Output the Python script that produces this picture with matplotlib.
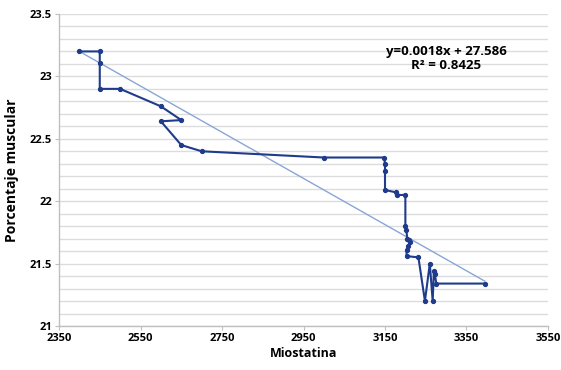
import numpy as np
import matplotlib.pyplot as plt
from matplotlib.ticker import MultipleLocator

# Data (in plotting order)
miostatina = [2400, 2450, 2450, 2450, 2500, 2600, 2650, 2600, 2650, 2700,
              3000, 3148, 3150, 3150, 3150, 3178, 3180, 3200, 3200, 3202,
              3205, 3210, 3212, 3207, 3203, 3203, 3232, 3248, 3260, 3267,
              3270, 3272, 3276, 3395]
porcentaje = [23.2, 23.2, 23.11, 22.9, 22.9, 22.76, 22.65, 22.64, 22.45, 22.4,
              22.35, 22.35, 22.3, 22.24, 22.09, 22.07, 22.05, 22.05, 21.8, 21.77,
              21.7, 21.69, 21.67, 21.64, 21.61, 21.56, 21.55, 21.2, 21.5, 21.2,
              21.44, 21.42, 21.34, 21.34]
x_ticks = [2350, 2550, 2750, 2950, 3150, 3350, 3550]
y_ticks = [21, 21.5, 22, 22.5, 23, 23.5]
# trend line as drawn in the reference
trend_slope = -0.00185
trend_intercept = 27.64
eq_text = "y=0.0018x + 27.586"
r2_text = "R² = 0.8425"

plt.rcParams['font.family'] = ['Open Sans', 'DejaVu Sans']

fig = plt.figure(figsize=(5.61, 3.70), dpi=100)
ax = fig.add_axes([0.1052, 0.1189, 0.8716, 0.8433])

x = np.array(miostatina)
y = np.array(porcentaje)
xs = np.array([x.min(), x.max()])
ax.plot(xs, trend_slope * xs + trend_intercept, color='#88a6d6', lw=1.0, zorder=2)

# Series
ax.plot(x, y, color='#1f3b8c', lw=1.5, marker='o', markersize=2.8, zorder=3)

ax.set_xlim(2350, 3550)
ax.set_ylim(21, 23.5)
ax.set_xticks(x_ticks)
ax.set_yticks(y_ticks)
ax.set_yticklabels([f"{v:g}" for v in y_ticks])
ax.yaxis.set_minor_locator(MultipleLocator(0.1))

ax.grid(True, axis='y', which='both', color='#dcdcdc', lw=1.0, zorder=0)
ax.set_axisbelow(True)

for side in ['top', 'right']:
    ax.spines[side].set_visible(False)
for side in ['left', 'bottom']:
    ax.spines[side].set_color('#bfbfbf')
    ax.spines[side].set_linewidth(1.0)

ax.tick_params(axis='both', which='major', labelsize=8, color='#bfbfbf', length=3, pad=2)
ax.tick_params(axis='y', which='minor', length=0)
for lbl in ax.get_xticklabels() + ax.get_yticklabels():
    lbl.set_fontweight('bold')

ax.set_xlabel('Miostatina', fontsize=9, fontweight='bold', labelpad=2)
ax.set_ylabel('Porcentaje muscular', fontsize=10, fontweight='bold', labelpad=8)

ax.text(3300, 23.2, eq_text, fontsize=9.5, fontweight='bold', ha='center', va='center')
ax.text(3300, 23.085, r2_text, fontsize=9.5, fontweight='bold', ha='center', va='center')

fig.savefig('out.png', dpi=100)
